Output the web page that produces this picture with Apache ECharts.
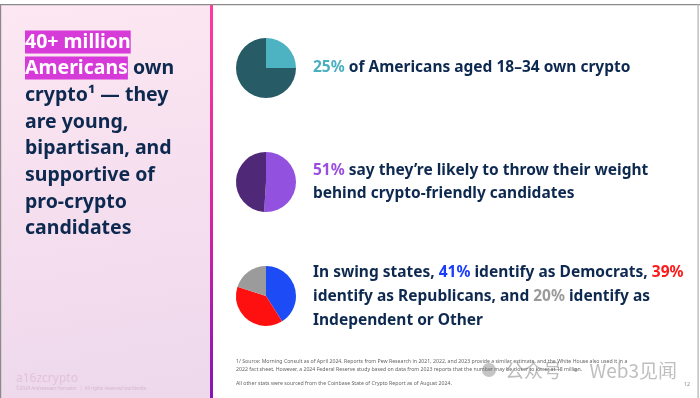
<!DOCTYPE html>
<html><head><meta charset="utf-8">
<script src="https://cdn.jsdelivr.net/npm/echarts@6/dist/echarts.min.js"></script>
<style>html,body{margin:0;padding:0;background:#fff}#c{width:700px;height:398px}</style>
</head><body><div id="c"></div>
<script>
// ---- data ----
const youngLabels = ['Aged 18–34 own crypto', 'Do not own'];
const youngValues = [25, 75];
const likelyLabels = ['Likely to back crypto-friendly candidates', 'Other'];
const likelyValues = [51, 49];
const partyLabels = ['Democrats', 'Republicans', 'Independent or Other'];
const partyValues = [41, 39, 20];

const NAVY = '#0e2950';
const FONT = '"Noto Sans", "Open Sans", sans-serif';

const chart = echarts.init(document.getElementById('c'), null, {renderer: 'canvas'});

function pie(name, labels, values, colors, cy) {
  return {
    type: 'pie', name: name, center: [266, cy], radius: [0, 30],
    startAngle: 90, clockwise: true, silent: true, animation: false,
    label: {show: false}, labelLine: {show: false},
    itemStyle: {borderWidth: 0},
    data: labels.map((l, i) => ({name: l, value: values[i], itemStyle: {color: colors[i]}}))
  };
}

const titleLines = [
  {y: 42, text: '{hl|40+ million}'},
  {y: 68, text: '{hl|Americans}{t| own}'},
  {y: 95, text: '{t|crypto¹ — they}'},
  {y: 122, text: '{t|are young,}'},
  {y: 148, text: '{t|bipartisan, and}'},
  {y: 175, text: '{t|supportive of}'},
  {y: 202, text: '{t|pro-crypto}'},
  {y: 228, text: '{t|candidates}'}
];
const TS = 19.5;
const tRich = {
  hl: {fontFamily: FONT, fontWeight: 'bold', fontSize: TS, fill: '#ffffff', backgroundColor: '#d63ad8', padding: [2, 0, 1, 0]},
  t: {fontFamily: FONT, fontWeight: 'bold', fontSize: TS, fill: NAVY}
};

const BS = 15.5;
const bodyRich = {
  n: {fontFamily: FONT, fontWeight: 'bold', fontSize: BS, fill: NAVY},
  teal: {fontFamily: FONT, fontWeight: 'bold', fontSize: BS, fill: '#4aafc0'},
  pur: {fontFamily: FONT, fontWeight: 'bold', fontSize: BS, fill: '#9a4ee0'},
  blue: {fontFamily: FONT, fontWeight: 'bold', fontSize: BS, fill: '#1a3cff'},
  red: {fontFamily: FONT, fontWeight: 'bold', fontSize: BS, fill: '#ff1a1a'},
  gray: {fontFamily: FONT, fontWeight: 'bold', fontSize: BS, fill: '#9a9a9a'}
};
const bodyLines = [
  {y: 68, text: '{teal|25%}{n| of Americans aged 18–34 own crypto}'},
  {y: 171, text: '{pur|51%}{n| say they’re likely to throw their weight}'},
  {y: 194, text: '{n|behind crypto-friendly candidates}'},
  {y: 273, text: '{n|In swing states, }{blue|41%}{n| identify as Democrats, }{red|39%}'},
  {y: 297, text: '{n|identify as Republicans, and }{gray|20%}{n| identify as}'},
  {y: 321, text: '{n|Independent or Other}'}
];

const graphics = [
  {type: 'rect', shape: {x: 0, y: 0, width: 700, height: 398}, style: {fill: '#ffffff'}, z: -10},
  {type: 'rect', shape: {x: 0, y: 5, width: 210, height: 393}, z: -9,
    style: {fill: new echarts.graphic.LinearGradient(0, 0, 0.3, 1, [
      {offset: 0, color: '#fde7f2'}, {offset: 1, color: '#eed8ec'}])}},
  {type: 'rect', shape: {x: 210, y: 5, width: 3, height: 393}, z: -8,
    style: {fill: new echarts.graphic.LinearGradient(0, 0, 0, 1, [
      {offset: 0, color: '#ff3c9c'}, {offset: 0.5, color: '#e0249f'}, {offset: 1, color: '#8614b6'}])}},
  {type: 'rect', shape: {x: 0, y: 4, width: 700, height: 1.2}, style: {fill: '#8a8a8a'}, z: -7},
  {type: 'rect', shape: {x: 0, y: 4, width: 1.2, height: 394}, style: {fill: '#8a8a8a'}, z: -7},
  {type: 'rect', shape: {x: 697.5, y: 4, width: 1.2, height: 394}, style: {fill: '#b0b0b0'}, z: -7}
];
titleLines.forEach(l => graphics.push({type: 'text', x: 25, y: l.y,
  style: {text: l.text, rich: tRich, verticalAlign: 'middle', align: 'left'}}));
bodyLines.forEach(l => graphics.push({type: 'text', x: 313, y: l.y,
  style: {text: l.text, rich: bodyRich, verticalAlign: 'middle', align: 'left'}}));

const foot = {fontFamily: FONT, fontSize: 5.2, fill: '#666666', verticalAlign: 'middle'};
graphics.push(
  {type: 'text', x: 236, y: 362, style: Object.assign({text: '1/ Source: Morning Consult as of April 2024. Reports from Pew Research in 2021, 2022, and 2023 provide a similar estimate, and the White House also used it in a'}, foot)},
  {type: 'text', x: 236, y: 369.5, style: Object.assign({text: '2022 fact sheet. However, a 2024 Federal Reserve study based on data from 2023 reports that the number may be closer to lower at 18 million.'}, foot)},
  {type: 'text', x: 236, y: 384, style: Object.assign({text: 'All other stats were sourced from the Coinbase State of Crypto Report as of August 2024.'}, foot)},
  {type: 'text', x: 690, y: 385, style: Object.assign({text: '12', align: 'right'}, foot, {fill: '#8a8a8a'})},
  {type: 'text', x: 16, y: 379, style: {text: 'a16zcrypto', fontFamily: FONT, fontSize: 12, fill: '#e2c4da', verticalAlign: 'middle'}},
  {type: 'text', x: 16, y: 389, style: {text: '©2024 Andreessen Horowitz.  |  All rights reserved worldwide.', fontFamily: FONT, fontSize: 4.5, fill: '#d6b8cf', verticalAlign: 'middle'}},
  {type: 'text', x: 505, y: 371, z: 20, style: {text: '公众号 · Web3见闻', fontFamily: '"Noto Sans CJK SC", sans-serif', fontSize: 19, fill: 'rgba(110,110,110,0.45)', verticalAlign: 'middle'}},
  {type: 'circle', shape: {cx: 489, cy: 370, r: 7}, z: 20, style: {fill: 'rgba(110,110,110,0.4)'}}
);

chart.setOption({
  animation: false,
  backgroundColor: '#ffffff',
  graphic: graphics,
  series: [
    pie('young', youngLabels, youngValues, ['#4db3c2', '#275b66'], 68),
    pie('likely', likelyLabels, likelyValues, ['#9351e0', '#4f2878'], 182),
    pie('party', partyLabels, partyValues, ['#1d4cf6', '#ff1010', '#9b9b9b'], 296)
  ]
});
</script></body></html>
